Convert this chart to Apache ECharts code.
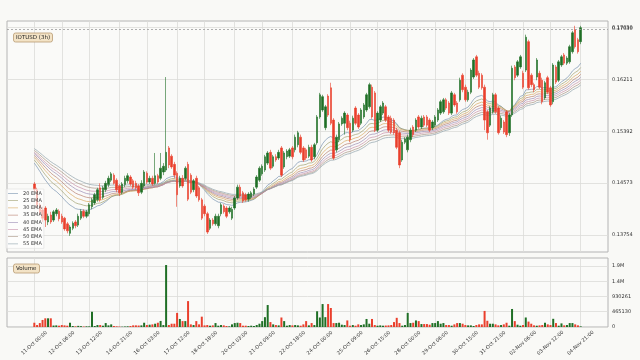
<!DOCTYPE html>
<html><head><meta charset="utf-8">
<script src="https://cdn.jsdelivr.net/npm/echarts@6/dist/echarts.min.js"></script>
<style>html,body{margin:0;padding:0;background:#f9f9f6}#c{width:640px;height:360px}</style>
</head><body><div id="c"></div>
<script>
const tickLabels = ['11-Oct 00:00','12-Oct 06:00','13-Oct 12:00','14-Oct 21:00','16-Oct 03:00','17-Oct 12:00','18-Oct 18:00','20-Oct 03:00','21-Oct 09:00','22-Oct 18:00','24-Oct 00:00','25-Oct 09:00','26-Oct 15:00','28-Oct 00:00','29-Oct 06:00','30-Oct 15:00','31-Oct 21:00','02-Nov 06:00','03-Nov 12:00','04-Nov 21:00'];
const priceTicks = [0.13754, 0.14573, 0.15392, 0.16211, 0.17030];
const volumeTicks = [0, 465130.25, 930260.5, 1395390.75, 1860521];
const emaPeriods = [20, 25, 30, 35, 40, 45, 50, 55];
const emaStart = [0.1489, 0.1494, 0.1498, 0.1501, 0.1504, 0.1506, 0.1509, 0.1512];
const emaColors = ['#7a94b0', '#a0a070', '#d8a860', '#b88070', '#9c8cb4', '#c890a8', '#a89484', '#90a4ac'];
const lastPrice = 0.1703;
// [open, close, low, high]
const ohlc = [
[0.1456,0.1447,0.1443,0.1459],[0.1447,0.1423,0.1418,0.1450],[0.1423,0.1412,0.1407,0.1426],[0.1415,0.1402,0.1396,0.1420],[0.1418,0.1399,0.1388,0.1421],
[0.1396,0.1405,0.1391,0.1409],[0.1407,0.1396,0.1393,0.1412],[0.1399,0.1412,0.1396,0.1415],[0.1409,0.1415,0.1405,0.1418],[0.1413,0.1401,0.1397,0.1416],
[0.1405,0.1396,0.1393,0.1409],[0.1402,0.1385,0.1382,0.1404],[0.1393,0.1382,0.1378,0.1396],[0.1378,0.1388,0.1374,0.1391],[0.1386,0.1394,0.1383,0.1397],
[0.1396,0.1390,0.1386,0.1399],[0.1391,0.1405,0.1388,0.1409],[0.1402,0.1413,0.1399,0.1416],[0.1413,0.1405,0.1402,0.1416],[0.1405,0.1412,0.1402,0.1415],
[0.1409,0.1423,0.1405,0.1426],[0.1420,0.1431,0.1416,0.1434],[0.1426,0.1439,0.1423,0.1442],[0.1431,0.1447,0.1428,0.1450],[0.1450,0.1431,0.1428,0.1457],
[0.1435,0.1450,0.1432,0.1453],[0.1447,0.1457,0.1443,0.1461],[0.1455,0.1465,0.1451,0.1469],[0.1462,0.1472,0.1459,0.1475],[0.1470,0.1457,0.1455,0.1473],
[0.1462,0.1447,0.1443,0.1465],[0.1453,0.1442,0.1437,0.1456],[0.1443,0.1456,0.1440,0.1459],[0.1455,0.1465,0.1451,0.1469],[0.1461,0.1469,0.1457,0.1473],
[0.1467,0.1456,0.1453,0.1470],[0.1461,0.1451,0.1448,0.1464],[0.1457,0.1450,0.1447,0.1461],[0.1453,0.1442,0.1437,0.1456],[0.1443,0.1457,0.1440,0.1462],
[0.1453,0.1475,0.1450,0.1478],[0.1473,0.1459,0.1456,0.1476],[0.1459,0.1465,0.1456,0.1469],[0.1465,0.1456,0.1453,0.1469],[0.1457,0.1469,0.1455,0.1505],
[0.1469,0.1459,0.1456,0.1472],[0.1465,0.1481,0.1462,0.1505],[0.1475,0.1484,0.1470,0.1489],[0.1478,0.1506,0.1475,0.1625],[0.1513,0.1486,0.1481,0.1516],
[0.1500,0.1483,0.1480,0.1503],[0.1487,0.1470,0.1465,0.1491],[0.1473,0.1439,0.1420,0.1476],[0.1453,0.1465,0.1450,0.1469],[0.1465,0.1453,0.1450,0.1470],
[0.1465,0.1481,0.1462,0.1484],[0.1487,0.1432,0.1429,0.1491],[0.1470,0.1443,0.1440,0.1473],[0.1447,0.1461,0.1443,0.1464],[0.1465,0.1437,0.1434,0.1469],
[0.1450,0.1431,0.1428,0.1453],[0.1431,0.1402,0.1399,0.1434],[0.1421,0.1409,0.1405,0.1424],[0.1409,0.1380,0.1377,0.1412],[0.1386,0.1399,0.1383,0.1402],
[0.1399,0.1393,0.1390,0.1402],[0.1393,0.1405,0.1390,0.1409],[0.1390,0.1405,0.1386,0.1409],[0.1409,0.1423,0.1405,0.1426],[0.1421,0.1412,0.1409,0.1424],
[0.1418,0.1405,0.1402,0.1421],[0.1412,0.1418,0.1409,0.1421],[0.1402,0.1416,0.1399,0.1420],[0.1418,0.1434,0.1415,0.1437],[0.1434,0.1451,0.1431,0.1455],
[0.1451,0.1437,0.1434,0.1455],[0.1442,0.1429,0.1426,0.1445],[0.1439,0.1431,0.1428,0.1442],[0.1432,0.1440,0.1428,0.1443],[0.1435,0.1442,0.1432,0.1445],
[0.1440,0.1448,0.1437,0.1451],[0.1451,0.1467,0.1448,0.1470],[0.1462,0.1481,0.1459,0.1484],[0.1472,0.1484,0.1469,0.1487],[0.1478,0.1499,0.1475,0.1502],
[0.1489,0.1505,0.1486,0.1508],[0.1506,0.1481,0.1478,0.1510],[0.1484,0.1499,0.1481,0.1502],[0.1499,0.1494,0.1491,0.1503],[0.1497,0.1506,0.1494,0.1510],
[0.1513,0.1470,0.1467,0.1516],[0.1483,0.1505,0.1480,0.1508],[0.1499,0.1508,0.1495,0.1511],[0.1500,0.1510,0.1497,0.1513],[0.1513,0.1499,0.1495,0.1516],
[0.1510,0.1530,0.1506,0.1534],[0.1518,0.1537,0.1514,0.1540],[0.1530,0.1506,0.1503,0.1534],[0.1513,0.1494,0.1491,0.1516],[0.1510,0.1497,0.1494,0.1513],
[0.1500,0.1514,0.1497,0.1518],[0.1514,0.1494,0.1491,0.1518],[0.1499,0.1518,0.1495,0.1521],[0.1521,0.1562,0.1518,0.1565],[0.1562,0.1597,0.1559,0.1600],
[0.1573,0.1594,0.1570,0.1597],[0.1545,0.1578,0.1541,0.1581],[0.1595,0.1565,0.1562,0.1598],[0.1608,0.1552,0.1549,0.1616],[0.1557,0.1497,0.1494,0.1560],
[0.1510,0.1530,0.1506,0.1534],[0.1526,0.1551,0.1522,0.1554],[0.1551,0.1560,0.1548,0.1563],[0.1552,0.1568,0.1534,0.1571],[0.1565,0.1545,0.1541,0.1568],
[0.1552,0.1526,0.1522,0.1556],[0.1541,0.1560,0.1538,0.1564],[0.1576,0.1552,0.1549,0.1579],[0.1565,0.1546,0.1543,0.1568],[0.1552,0.1573,0.1549,0.1576],
[0.1562,0.1581,0.1559,0.1584],[0.1573,0.1597,0.1570,0.1600],[0.1578,0.1613,0.1575,0.1616],[0.1609,0.1562,0.1559,0.1613],[0.1600,0.1541,0.1538,0.1603],
[0.1541,0.1568,0.1538,0.1571],[0.1557,0.1578,0.1554,0.1581],[0.1568,0.1584,0.1565,0.1587],[0.1578,0.1557,0.1554,0.1581],[0.1562,0.1541,0.1538,0.1565],
[0.1560,0.1538,0.1535,0.1564],[0.1557,0.1537,0.1534,0.1560],[0.1541,0.1514,0.1511,0.1545],[0.1537,0.1486,0.1481,0.1540],[0.1494,0.1522,0.1491,0.1526],
[0.1522,0.1527,0.1519,0.1530],[0.1510,0.1530,0.1506,0.1534],[0.1526,0.1541,0.1522,0.1545],[0.1546,0.1534,0.1530,0.1549],[0.1541,0.1557,0.1538,0.1560],
[0.1562,0.1546,0.1543,0.1565],[0.1546,0.1560,0.1543,0.1564],[0.1562,0.1549,0.1546,0.1565],[0.1562,0.1549,0.1546,0.1565],[0.1557,0.1541,0.1538,0.1560],
[0.1545,0.1554,0.1541,0.1557],[0.1549,0.1562,0.1546,0.1565],[0.1557,0.1573,0.1554,0.1576],[0.1568,0.1586,0.1565,0.1589],[0.1570,0.1589,0.1567,0.1592],
[0.1589,0.1576,0.1573,0.1592],[0.1584,0.1568,0.1565,0.1587],[0.1568,0.1600,0.1565,0.1603],[0.1597,0.1581,0.1578,0.1600],[0.1584,0.1570,0.1567,0.1587],
[0.1589,0.1620,0.1586,0.1624],[0.1628,0.1605,0.1601,0.1631],[0.1609,0.1589,0.1586,0.1613],[0.1589,0.1601,0.1586,0.1605],[0.1601,0.1636,0.1598,0.1639],
[0.1625,0.1652,0.1622,0.1655],[0.1657,0.1628,0.1625,0.1660],[0.1631,0.1609,0.1606,0.1635],[0.1628,0.1608,0.1605,0.1631],[0.1609,0.1557,0.1541,0.1613],
[0.1570,0.1537,0.1526,0.1573],[0.1549,0.1576,0.1546,0.1579],[0.1570,0.1597,0.1567,0.1600],[0.1597,0.1570,0.1567,0.1600],[0.1576,0.1537,0.1534,0.1579],
[0.1545,0.1560,0.1541,0.1564],[0.1554,0.1538,0.1535,0.1557],[0.1570,0.1534,0.1530,0.1573],[0.1537,0.1565,0.1532,0.1568],[0.1565,0.1639,0.1562,0.1643],
[0.1641,0.1624,0.1620,0.1644],[0.1628,0.1649,0.1625,0.1652],[0.1641,0.1657,0.1638,0.1660],[0.1631,0.1609,0.1606,0.1635],[0.1636,0.1688,0.1633,0.1692],
[0.1681,0.1608,0.1605,0.1684],[0.1628,0.1613,0.1609,0.1631],[0.1613,0.1605,0.1601,0.1616],[0.1625,0.1652,0.1620,0.1655],[0.1631,0.1609,0.1606,0.1635],
[0.1620,0.1586,0.1582,0.1624],[0.1592,0.1616,0.1589,0.1619],[0.1624,0.1601,0.1598,0.1627],[0.1608,0.1581,0.1578,0.1611],[0.1586,0.1644,0.1582,0.1647],
[0.1641,0.1617,0.1614,0.1644],[0.1620,0.1649,0.1617,0.1652],[0.1644,0.1657,0.1641,0.1660],[0.1660,0.1647,0.1644,0.1663],[0.1647,0.1655,0.1644,0.1658],
[0.1649,0.1673,0.1646,0.1676],[0.1665,0.1695,0.1662,0.1698],[0.1700,0.1673,0.1670,0.1706],[0.1684,0.1665,0.1662,0.1687],[0.1681,0.1703,0.1677,0.1706]
];
const volume = [
130000,60000,120000,215000,265000,265000,265000,45000,50000,40000,60000,50000,40000,130000,30000,20000,35000,25000,15000,20000,
20000,465000,30000,60000,60000,40000,120000,50000,80000,30000,20000,15000,10000,15000,20000,30000,50000,50000,45000,50000,130000,60000,70000,
80000,100000,130000,185000,60000,1890000,60000,100000,100000,430000,245000,180000,180000,790000,80000,60000,180000,80000,315000,50000,60000,40000,50000,
120000,40000,60000,50000,30000,20000,80000,120000,130000,120000,40000,40000,30000,40000,30000,60000,100000,180000,300000,670000,150000,80000,60000,
50000,290000,180000,40000,60000,50000,60000,50000,40000,80000,180000,50000,120000,60000,480000,290000,700000,300000,700000,580000,120000,120000,130000,70000,
60000,200000,40000,60000,40000,80000,60000,80000,245000,100000,245000,60000,40000,50000,40000,45000,50000,60000,150000,280000,120000,40000,60000,
430000,120000,130000,200000,180000,90000,90000,90000,70000,120000,120000,180000,100000,120000,60000,60000,40000,80000,120000,120000,100000,60000,50000,
50000,30000,60000,80000,80000,490000,190000,100000,100000,80000,50000,60000,80000,130000,40000,550000,180000,70000,40000,60000,290000,165000,100000,50000,
40000,50000,60000,130000,80000,60000,250000,120000,40000,110000,50000,60000,
120000,120000,80000,50000,20000
];

const UP = '#1f6f25', DOWN = '#ea3f2c';
const HOUR = 3600000;
const startTime = Date.UTC(2023, 9, 11, 0, 0);
const times = ohlc.map((_, j) => startTime + j * 3 * HOUR);
const monthIdx = {Oct: 9, Nov: 10};
const tickTimes = tickLabels.map(s => {
  const [d, hm] = s.split(' ');
  const [day, mon] = d.split('-');
  return Date.UTC(2023, monthIdx[mon], +day, +hm.split(':')[0]);
});
const span = times[times.length - 1] - times[0];
const xMin = times[0] - 0.05 * span, xMax = times[times.length - 1] + 0.05 * span;

const emaSeries = emaPeriods.map((p, k) => {
  const a = 2 / (p + 1);
  let e = emaStart[k];
  const d = ohlc.map((c, j) => {
    if (j > 0) e = a * c[1] + (1 - a) * e;
    return [times[j], +e.toFixed(5)];
  });
  return {
    name: p + ' EMA', type: 'line', xAxisIndex: 0, yAxisIndex: 0, data: d,
    symbol: 'none', showSymbol: false, silent: true, z: 1,
    lineStyle: {width: 0.7, color: emaColors[k]}, itemStyle: {color: emaColors[k]}
  };
});

const gridLine = {show: true, lineStyle: {color: '#dcdcd8', width: 0.8}};
const lbl = {fontSize: 5, color: '#333', fontFamily: 'DejaVu Sans'};
const boxStyle = {backgroundColor: '#f3e3c6', borderColor: '#b89a72', borderWidth: 0.8, borderRadius: 2, padding: [1.5, 3]};

const chart = echarts.init(document.getElementById('c'), null, {renderer: 'canvas'});
chart.setOption({
  animation: false,
  backgroundColor: '#f9f9f6',
  textStyle: {fontFamily: 'DejaVu Sans'},
  title: [
    Object.assign({text: 'IOTUSD (3h)', left: 13, top: 33, textStyle: {fontSize: 5.5, fontWeight: 'normal', color: '#222'}}, boxStyle),
    Object.assign({text: 'Volume', left: 13, top: 264, textStyle: {fontSize: 5.5, fontWeight: 'normal', color: '#222'}}, boxStyle)
  ],
  legend: {
    data: emaPeriods.map(p => ({name: p + ' EMA', icon: 'path://M0 0h20v1.2H0z'})),
    orient: 'vertical', left: 6, top: 189,
    itemWidth: 10, itemHeight: 6, itemGap: 2.2, selectedMode: false,
    textStyle: {fontSize: 5, color: '#333'}, padding: [2, 2],
    backgroundColor: 'rgba(255,255,255,0.6)', borderColor: '#dadada', borderWidth: 0.5
  },
  grid: [
    {left: 7, right: 32, top: 21, height: 231, show: true, borderColor: '#b4b4b4', borderWidth: 1, backgroundColor: '#fafaf8'},
    {left: 7, right: 32, top: 258, height: 69, show: true, borderColor: '#b4b4b4', borderWidth: 1, backgroundColor: '#fafaf8'}
  ],
  xAxis: [
    {type: 'value', gridIndex: 0, min: xMin, max: xMax, axisLine: {show: false},
     axisTick: {show: false, customValues: tickTimes}, axisLabel: {show: false, customValues: tickTimes}, splitLine: gridLine},
    {type: 'value', gridIndex: 1, min: xMin, max: xMax, axisLine: {show: false},
     axisTick: {show: false, customValues: tickTimes},
     axisLabel: Object.assign({customValues: tickTimes, formatter: v => tickLabels[tickTimes.indexOf(v)] || '',
       rotate: 42, align: 'center', verticalAlign: 'middle', margin: 16}, lbl),
     splitLine: gridLine}
  ],
  yAxis: [
    {type: 'value', gridIndex: 0, position: 'right', min: 0.13485, max: 0.17136, axisLine: {show: false},
     axisTick: {show: false, customValues: priceTicks},
     axisLabel: Object.assign({customValues: priceTicks, formatter: v => v.toFixed(5), margin: 4}, lbl),
     splitLine: gridLine},
    {type: 'value', gridIndex: 1, position: 'right', min: 0, max: 2104500, axisLine: {show: false},
     axisTick: {show: false, customValues: volumeTicks},
     axisLabel: Object.assign({customValues: volumeTicks, margin: 4,
       formatter: v => v >= 1e6 ? (v / 1e6).toFixed(1) + 'M' : String(Math.round(v))}, lbl),
     splitLine: gridLine}
  ],
  series: [
    ...emaSeries,
    {
      name: 'IOTUSD', type: 'candlestick', xAxisIndex: 0, yAxisIndex: 0, z: 3,
      data: ohlc.map((c, j) => [times[j], c[0], c[1], c[2], c[3]]),
      encode: {x: 0, y: [1, 2, 3, 4]},
      barWidth: 2,
      itemStyle: {color: UP, color0: DOWN, borderColor: UP, borderColor0: DOWN, borderWidth: 0.6},
      markLine: {
        silent: true, symbol: 'none',
        data: [{yAxis: lastPrice}],
        lineStyle: {color: '#9a9a9a', type: [2, 2], width: 0.8},
        label: Object.assign({position: 'end', formatter: lastPrice.toFixed(5), distance: 4, offset: [0, -1]}, lbl)
      }
    },
    {
      name: 'Volume', type: 'bar', xAxisIndex: 1, yAxisIndex: 1, barWidth: 2,
      data: volume.map((v, j) => ({value: [times[j], v], itemStyle: {color: ohlc[j][1] >= ohlc[j][0] ? UP : DOWN}}))
    }
  ]
});
</script></body></html>
